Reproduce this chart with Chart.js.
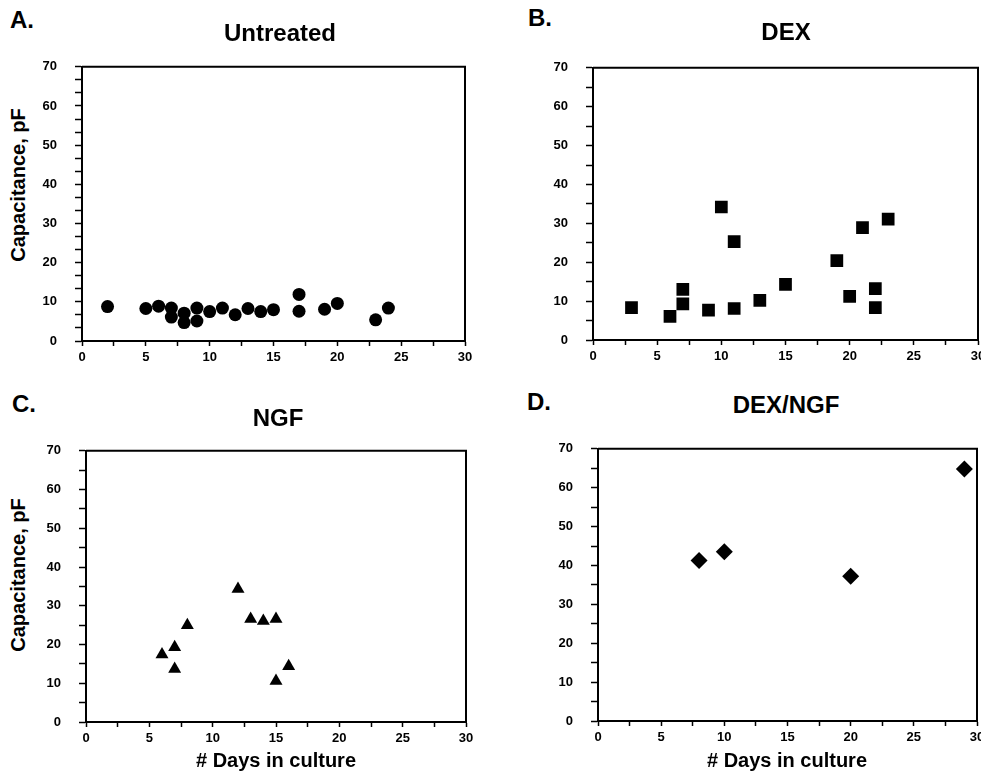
<!DOCTYPE html>
<html>
<head>
<meta charset="utf-8">
<script src="https://cdn.jsdelivr.net/npm/chart.js@4"></script>
<style>
  html, body { margin: 0; padding: 0; background: #fff; overflow: hidden; }
  body { width: 981px; height: 780px; position: relative; font-family: "Liberation Sans", Arial, sans-serif; }
  canvas { position: absolute; }
  .txt { position: absolute; font-weight: bold; color: #000; white-space: nowrap; line-height: 1; }
  .letter { font-size: 24px; }
  .title { font-size: 24px; transform: translate(-50%, -50%); }
  .xtitle { font-size: 20px; transform: translate(-50%, -50%); }
  .ytitle { font-size: 20px; transform: translate(-50%, -50%) rotate(-90deg); }
</style>
</head>
<body>
<canvas id="chartA"></canvas>
<canvas id="chartB"></canvas>
<canvas id="chartC"></canvas>
<canvas id="chartD"></canvas>

<div class="txt letter" style="left:10px; top:8px;">A.</div>
<div class="txt letter" style="left:528px; top:6px;">B.</div>
<div class="txt letter" style="left:12px; top:392px;">C.</div>
<div class="txt letter" style="left:527px; top:390px;">D.</div>

<div class="txt title" style="left:280px; top:33px;">Untreated</div>
<div class="txt title" style="left:786px; top:32px;">DEX</div>
<div class="txt title" style="left:278px; top:418px;">NGF</div>
<div class="txt title" style="left:786px; top:405px;">DEX/NGF</div>

<div class="txt ytitle" style="left:18px; top:185px;">Capacitance, pF</div>
<div class="txt ytitle" style="left:18px; top:575px;">Capacitance, pF</div>
<div class="txt xtitle" style="left:276px; top:760px;"># Days in culture</div>
<div class="txt xtitle" style="left:787px; top:760px;"># Days in culture</div>

<script>
// ---- data ----
// A. Untreated
const untreatedDays = [2, 5, 6, 7, 7, 8, 8, 9, 9, 10, 11, 12, 13, 14, 15, 17, 17, 19, 20, 23, 24];
const untreatedCap  = [8.8, 8.3, 8.9, 8.4, 6.1, 7.1, 4.7, 8.4, 5.1, 7.5, 8.4, 6.7, 8.3, 7.5, 8.0, 11.9, 7.6, 8.1, 9.6, 5.4, 8.4];

// B. DEX
const dexDays = [3, 6, 7, 7, 9, 10, 11, 11, 13, 15, 19, 20, 21, 22, 22, 23];
const dexCap  = [8.3, 6.1, 13.0, 9.3, 7.7, 34.2, 25.3, 8.1, 10.2, 14.3, 20.4, 11.2, 28.9, 13.2, 8.3, 31.1];

// C. NGF
const ngfDays = [6, 7, 7, 8, 12, 13, 14, 15, 15, 16];
const ngfCap  = [17.4, 19.3, 13.7, 25.0, 34.3, 26.6, 26.1, 26.6, 10.6, 14.4];

// D. DEX/NGF
const dexNgfDays = [8, 10, 20, 29];
const dexNgfCap  = [41.3, 43.5, 37.2, 64.8];

// axis labels
const xTickLabels = [0, 5, 10, 15, 20, 25, 30];
const yTickLabels = [0, 10, 20, 30, 40, 50, 60, 70];

// ---- helpers ----
const FONT = '"Liberation Sans", Arial, sans-serif';

function toPoints(xs, ys) {
    return xs.map((x, i) => ({ x: x, y: ys[i] }));
}

function minorTicks(max, step) {
    const out = [];
    const n = Math.round(max / step);
    for (let i = 0; i <= n; i++) out.push(i * max / n);
    return out;
}

function isLabel(v, labels) {
    return labels.some(l => Math.abs(l - v) < 1e-6);
}

// draws the top and right edges of the box
const framePlugin = {
    id: 'frame',
    afterDraw(chart) {
        const a = chart.chartArea;
        const ctx = chart.ctx;
        ctx.save();
        ctx.strokeStyle = '#000';
        ctx.lineWidth = 2;
        ctx.beginPath();
        ctx.moveTo(a.left, a.top);
        ctx.lineTo(a.right, a.top);
        ctx.lineTo(a.right, a.bottom);
        ctx.stroke();
        ctx.restore();
    }
};

const Y_W = 45, X_H = 30, PAD_T = 12, PAD_R = 12;

function makePanel(id, box, points, style, radius, yStep) {
    const canvas = document.getElementById(id);
    const left = box.left - Y_W;
    const top = box.top - PAD_T;
    const width = box.right - left + PAD_R;
    const height = box.bottom + X_H - top;
    canvas.style.left = left + 'px';
    canvas.style.top = top + 'px';
    canvas.width = width;
    canvas.height = height;

    const xt = minorTicks(30, 2.5);
    const yt = minorTicks(70, yStep);

    new Chart(canvas, {
        type: 'scatter',
        data: {
            datasets: [{
                data: points,
                pointStyle: style,
                pointRadius: radius,
                pointHoverRadius: radius,
                backgroundColor: '#000',
                borderColor: '#000',
                borderWidth: 0
            }]
        },
        options: {
            responsive: false,
            animation: false,
            devicePixelRatio: 1,
            layout: { padding: { top: PAD_T, right: PAD_R, left: 0, bottom: 0 } },
            plugins: {
                legend: { display: false },
                tooltip: { enabled: false }
            },
            scales: {
                x: {
                    type: 'linear',
                    min: 0,
                    max: 30,
                    afterBuildTicks: axis => { axis.ticks = xt.map(v => ({ value: v })); },
                    afterFit: axis => { axis.height = X_H; },
                    border: { display: true, color: '#000', width: 2 },
                    grid: { drawOnChartArea: false, drawTicks: true, tickLength: 5, tickColor: '#000', tickWidth: 1.5 },
                    ticks: {
                        autoSkip: false,
                        maxRotation: 0,
                        padding: 4,
                        color: '#000',
                        font: { family: FONT, size: 13, weight: 'bold' },
                        callback: v => isLabel(v, xTickLabels) ? String(Math.round(v)) : ''
                    }
                },
                y: {
                    type: 'linear',
                    min: 0,
                    max: 70,
                    afterBuildTicks: axis => { axis.ticks = yt.map(v => ({ value: v })); },
                    afterFit: axis => { axis.width = Y_W; },
                    border: { display: true, color: '#000', width: 2 },
                    grid: { drawOnChartArea: false, drawTicks: true, tickLength: 7, tickColor: '#000', tickWidth: 1.5 },
                    ticks: {
                        autoSkip: false,
                        padding: 18,
                        color: '#000',
                        font: { family: FONT, size: 13, weight: 'bold' },
                        callback: v => isLabel(v, yTickLabels) ? String(Math.round(v)) : ''
                    }
                }
            }
        },
        plugins: [framePlugin]
    });
}

makePanel('chartA', { left: 82, right: 465, top: 53, bottom: 341 },
    toPoints(untreatedDays, untreatedCap), 'circle', 6.5, 10 / 3);
makePanel('chartB', { left: 593, right: 978, top: 54, bottom: 340 },
    toPoints(dexDays, dexCap), 'rect', 9, 5);
makePanel('chartC', { left: 86, right: 466, top: 437, bottom: 722 },
    toPoints(ngfDays, ngfCap), 'triangle', 7.5, 5);
makePanel('chartD', { left: 598, right: 977, top: 435, bottom: 721 },
    toPoints(dexNgfDays, dexNgfCap), 'rectRot', 8.5, 5);
</script>
</body>
</html>
